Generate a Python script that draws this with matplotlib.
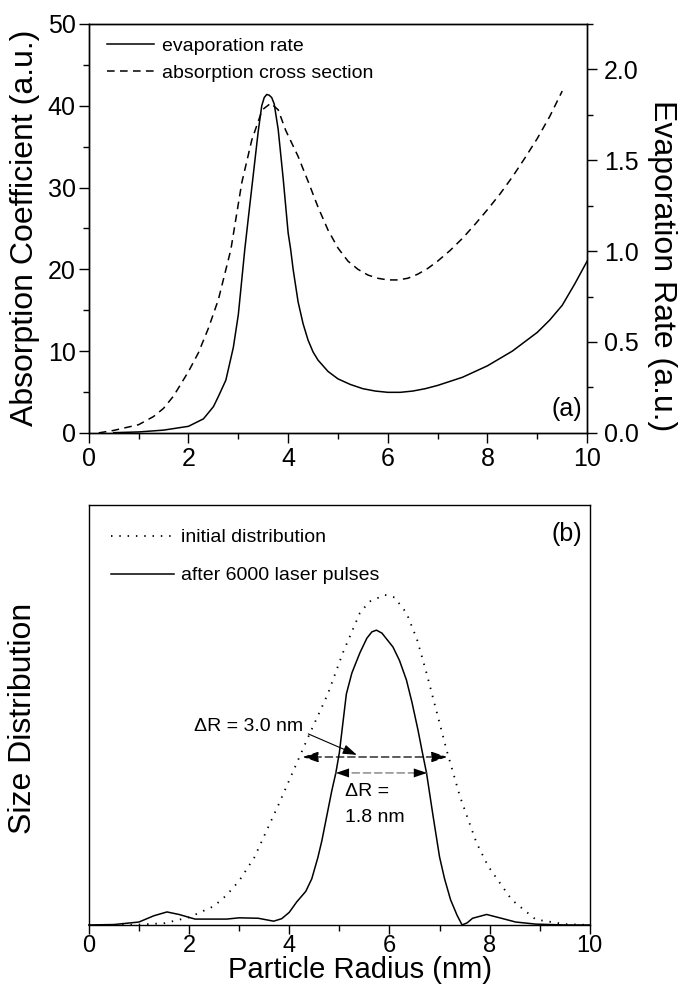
import numpy as np
import matplotlib
matplotlib.use("Agg")
import matplotlib.pyplot as plt
from matplotlib.ticker import MultipleLocator
from matplotlib.lines import Line2D

plt.rcParams['font.family'] = ['Liberation Sans', 'DejaVu Sans']

# panel (a): absorption cross section (left axis, a.u.)
abs_r = [0.2, 0.5, 1.0, 1.3, 1.5, 1.7, 1.85, 2.0, 2.2, 2.4, 2.6, 2.85, 3.07, 3.27, 3.48,
         3.65, 3.8, 3.95, 4.2, 4.41, 4.6, 4.8, 5.0, 5.2, 5.4, 5.6, 5.8, 6.0, 6.2, 6.4,
         6.6, 6.8, 7.0, 7.25, 7.5, 7.75, 8.0, 8.25, 8.5, 8.75, 9.0, 9.25, 9.5]
abs_val = [0.0, 0.3, 1.0, 2.0, 3.0, 4.5, 6.0, 7.5, 9.8, 12.8, 16.3, 22.4, 30.6, 35.8, 39.5,
           40.3, 39.5, 37.0, 33.8, 30.6, 27.6, 24.8, 22.6, 21.0, 20.0, 19.3, 18.9, 18.7, 18.7,
           18.9, 19.4, 20.1, 21.0, 22.3, 23.8, 25.5, 27.3, 29.2, 31.3, 33.6, 36.0, 38.7, 41.8]

# panel (a): evaporation rate (right axis, a.u.)
evap_r = [0.5, 1.0, 1.5, 2.0, 2.3, 2.5, 2.6, 2.75, 2.9, 3.0, 3.13, 3.2, 3.3, 3.4, 3.47,
          3.52, 3.57, 3.62, 3.67, 3.72, 3.8, 3.9, 4.0, 4.05, 4.1, 4.2, 4.3, 4.4, 4.5, 4.6,
          4.8, 5.0, 5.25, 5.5, 5.75, 6.0, 6.25, 6.5, 6.75, 7.0, 7.5, 8.0, 8.5, 9.0, 9.25,
          9.5, 9.75, 10.0]
evap_val = [0.001, 0.005, 0.015, 0.036, 0.077, 0.144, 0.20, 0.29, 0.47, 0.65, 1.01, 1.18,
            1.42, 1.66, 1.80, 1.845, 1.862, 1.858, 1.845, 1.81, 1.67, 1.40, 1.10, 1.01, 0.90,
            0.72, 0.60, 0.51, 0.445, 0.40, 0.338, 0.297, 0.266, 0.243, 0.230, 0.223, 0.223,
            0.230, 0.243, 0.261, 0.306, 0.369, 0.45, 0.553, 0.621, 0.702, 0.819, 0.945]

# panel (b): size distributions
init_r = [0.5, 1.0, 1.5, 2.0, 2.5, 2.75, 3.0, 3.3, 3.8, 4.35, 4.77, 5.07, 5.41, 5.6, 5.91,
          6.1, 6.34, 6.55, 6.74, 7.14, 7.41, 7.74, 7.97, 8.44, 8.92, 9.5, 10.0]
init_val = [0.0, 0.001, 0.004, 0.018, 0.045, 0.071, 0.105, 0.16, 0.29, 0.44, 0.55, 0.648,
            0.743, 0.77, 0.786, 0.78, 0.743, 0.68, 0.60, 0.417, 0.305, 0.195, 0.14, 0.06,
            0.013, 0.002, 0.0]

after_r = [0.0, 0.5, 1.0, 1.3, 1.56, 1.8, 2.12, 2.75, 3.0, 3.38, 3.69, 3.85, 4.0, 4.15, 4.33,
           4.45, 4.57, 4.65, 4.75, 4.85, 4.93, 5.0, 5.07, 5.14, 5.25, 5.41, 5.55, 5.65, 5.74,
           5.85, 5.95, 6.07, 6.2, 6.34, 6.45, 6.57, 6.65, 6.74, 6.87, 7.0, 7.1, 7.22, 7.35,
           7.45, 7.55, 7.66, 7.94, 8.2, 8.52, 8.92, 9.5, 10.0]
after_val = [0.0, 0.001, 0.007, 0.022, 0.031, 0.025, 0.014, 0.014, 0.017, 0.016, 0.009, 0.015,
             0.03, 0.055, 0.08, 0.11, 0.16, 0.20, 0.26, 0.32, 0.362, 0.41, 0.48, 0.55, 0.60,
             0.648, 0.683, 0.698, 0.702, 0.695, 0.68, 0.662, 0.63, 0.583, 0.53, 0.464, 0.415,
             0.362, 0.26, 0.162, 0.11, 0.06, 0.023, 0.0, 0.005, 0.016, 0.025, 0.017, 0.007,
             0.002, 0.0, 0.0]

fig = plt.figure(figsize=(6.78, 9.86), dpi=100)
ax1 = fig.add_axes([0.131, 0.561, 0.735, 0.4147])
ax2 = ax1.twinx()
axb = fig.add_axes([0.131, 0.0619, 0.739, 0.4259])

lw = 1.1
dash = (0, (5, 3.5))
dots = (0, (0.8, 3.8))
ax1.plot(abs_r, abs_val, color='k', lw=lw, linestyle=dash)
ax2.plot(evap_r, evap_val, color='k', lw=lw)

ax1.set_xlim(0, 10)
ax1.set_ylim(0, 50)
ax2.set_ylim(0, 2.25)
ax1.xaxis.set_major_locator(MultipleLocator(2))
ax1.xaxis.set_minor_locator(MultipleLocator(1))
ax1.yaxis.set_major_locator(MultipleLocator(10))
ax1.yaxis.set_minor_locator(MultipleLocator(5))
ax2.yaxis.set_major_locator(MultipleLocator(0.5))
ax2.yaxis.set_minor_locator(MultipleLocator(0.25))
ax2.yaxis.set_major_formatter(plt.FormatStrFormatter('%.1f'))

for a in (ax1, ax2, axb):
    for s in a.spines.values():
        s.set_linewidth(1.0)
    a.tick_params(which='both', direction='out', width=1.0, labelsize=18, top=False)
    a.tick_params(which='major', length=7)
    a.tick_params(which='minor', length=4.5)
ax1.tick_params(axis='y', pad=2.5)
ax2.tick_params(axis='y', pad=5)
axb.tick_params(axis='x', labelsize=17, pad=1)
axb.tick_params(axis='x', which='major', length=6.5)

fig.text(0.037, 0.7688, 'Absorption Coefficient (a.u.)', rotation=90, ha='center',
         va='center', fontsize=23)
fig.text(0.9764, 0.7302, 'Evaporation Rate (a.u.)', rotation=270, ha='center',
         va='center', fontsize=23)
ax1.text(0.99, 0.03, '(a)', transform=ax1.transAxes, ha='right', va='bottom', fontsize=18)

h = [Line2D([], [], color='k', lw=lw),
     Line2D([], [], color='k', lw=lw, linestyle=dash)]
ax1.legend(h, ['evaporation rate', 'absorption cross section'], loc='upper left',
           frameon=False, fontsize=14, handlelength=2.4, handletextpad=0.4,
           borderaxespad=0.3, labelspacing=0.45, bbox_to_anchor=(0.01, 1.0))

# panel (b)
axb.plot(init_r, init_val, color='k', lw=1.3, linestyle=dots)
axb.plot(after_r, after_val, color='k', lw=lw, clip_on=False)
axb.set_xlim(0, 10)
axb.set_ylim(0, 1.0)
axb.xaxis.set_major_locator(MultipleLocator(2))
axb.xaxis.set_minor_locator(MultipleLocator(1))
axb.set_yticks([])
fig.text(228 / 678, 2 / 986, 'Particle Radius (nm)', ha='left', va='bottom',
         fontsize=21)
fig.text(0.034, 0.2718, 'Size Distribution', rotation=90, ha='center', va='center',
         fontsize=23)
axb.text(0.985, 0.96, '(b)', transform=axb.transAxes, ha='right', va='top', fontsize=18)

hb = [Line2D([], [], color='k', lw=1.3, linestyle=dots),
      Line2D([], [], color='k', lw=lw)]
axb.legend(hb, ['initial distribution', 'after 6000 laser pulses'], loc='upper left',
           frameon=False, fontsize=14, handlelength=3.2, handletextpad=0.4,
           labelspacing=1.05, bbox_to_anchor=(0.01, 0.985))

# width annotations
head = '<|-|>,head_length=0.5,head_width=0.17'
axb.annotate('', xy=(4.27, 0.40), xytext=(7.15, 0.40),
             arrowprops=dict(arrowstyle=head, color='k', lw=0.9, linestyle=(0, (6, 3)),
                             mutation_scale=19, shrinkA=0, shrinkB=0))
axb.annotate('', xy=(4.93, 0.362), xytext=(6.75, 0.362),
             arrowprops=dict(arrowstyle='-', color='0.45', lw=0.9, linestyle=(0, (6, 3)),
                             shrinkA=0, shrinkB=0))
axb.annotate('', xy=(4.93, 0.362), xytext=(6.75, 0.362),
             arrowprops=dict(arrowstyle=head, color='k', lw=0.01,
                             mutation_scale=19, shrinkA=0, shrinkB=0))
axb.text(2.1, 0.472, '\u0394R = 3.0 nm', fontsize=14, ha='left', va='center')
axb.annotate('', xy=(5.35, 0.405), xytext=(4.38, 0.455),
             arrowprops=dict(arrowstyle='-|>,head_length=0.5,head_width=0.17', color='k',
                             lw=0.8, mutation_scale=17, shrinkA=0, shrinkB=0))
axb.text(5.11, 0.317, '\u0394R =', fontsize=14, ha='left', va='center')
axb.text(5.11, 0.257, '1.8 nm', fontsize=14, ha='left', va='center')

fig.savefig('out.png', dpi=100)
